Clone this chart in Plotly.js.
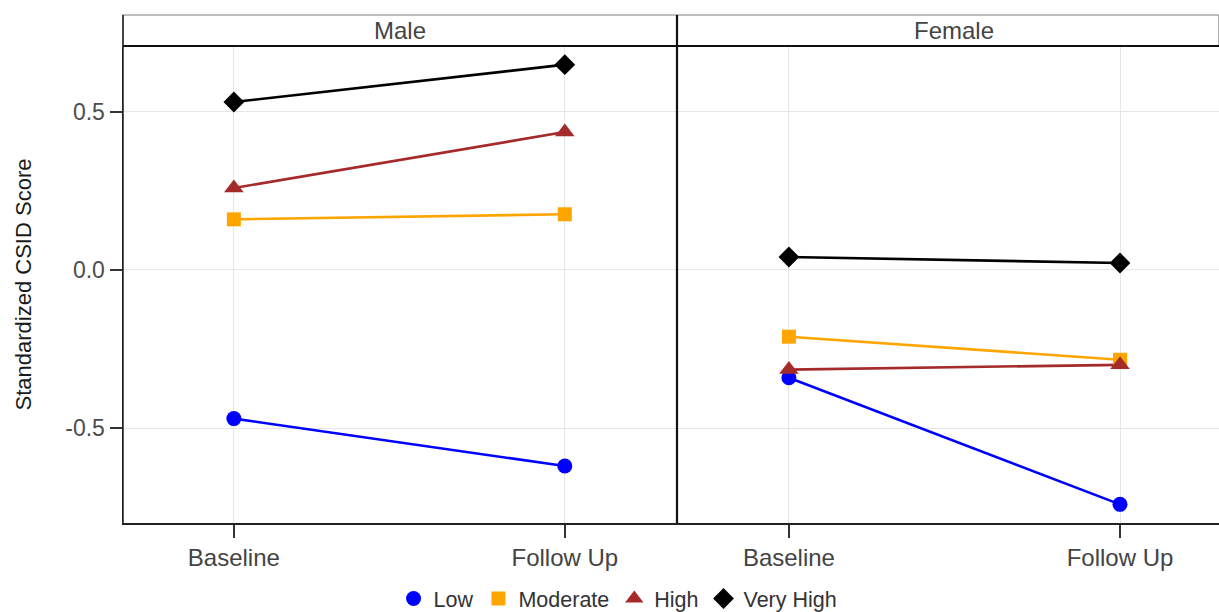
<!DOCTYPE html>
<html>
<head>
<meta charset="utf-8">
<script src="https://cdn.plot.ly/plotly-3.0.1.min.js"></script>
<style>html,body{margin:0;padding:0;background:#fff;}#chart{width:1219px;height:612px;}</style>
</head>
<body>
<div id="chart"></div>
<script>
// ---- Data ----
const timepoints = ["Baseline", "Follow Up"];
const groups = ["Low", "Moderate", "High", "Very High"];
const maleLow = [-0.470, -0.620];
const maleModerate = [0.160, 0.176];
const maleHigh = [0.259, 0.436];
const maleVeryHigh = [0.531, 0.649];
const femaleLow = [-0.341, -0.741];
const femaleModerate = [-0.211, -0.284];
const femaleHigh = [-0.315, -0.300];
const femaleVeryHigh = [0.041, 0.022];
const panelLabels = ["Male", "Female"];
const yTickVals = [-0.5, 0.0, 0.5];
const yTickLabels = ["-0.5", "0.0", "0.5"];

// ---- Styling ----
const colors = ["#0000FF", "#FFA500", "#A52A2A", "#000000"];
const symbols = ["circle", "square", "triangle-up", "diamond"];
const sizes = [15, 14, 17, 16];
const FONT = "Liberation Sans, Arial, sans-serif";

const maleSeries = [maleLow, maleModerate, maleHigh, maleVeryHigh];
const femaleSeries = [femaleLow, femaleModerate, femaleHigh, femaleVeryHigh];

const traces = [];
[["x", maleSeries, true], ["x2", femaleSeries, false]].forEach(([xa, series, legend]) => {
  groups.forEach((g, i) => {
    traces.push({
      x: timepoints, y: series[i], name: g, legendgroup: g,
      type: "scatter", mode: "lines", xaxis: xa, yaxis: "y",
      line: {color: colors[i], width: 2.6}, showlegend: false
    });
  });
  groups.forEach((g, i) => {
    traces.push({
      x: timepoints, y: series[i], name: g, legendgroup: g,
      type: "scatter", mode: "markers", xaxis: xa, yaxis: "y",
      marker: {color: colors[i], symbol: symbols[i], size: sizes[i], line: {width: 0}},
      showlegend: legend
    });
  });
});

const plotW = 1219 - 123;
const plotH = 523 - 46;
const split = 554 / plotW;
const stripTop = 1 + 31 / plotH;

const xCommon = {
  type: "category",
  categoryorder: "array", categoryarray: timepoints,
  showgrid: true, gridcolor: "#e6e6e6", gridwidth: 1,
  ticks: "outside", ticklen: 13, tickcolor: "#333", tickwidth: 1.5,
  tickfont: {family: FONT, size: 24, color: "#444"},
  showline: true, linecolor: "#222", linewidth: 1.5,
  zeroline: false, fixedrange: true
};

const layout = {
  width: 1219, height: 612,
  paper_bgcolor: "#fff", plot_bgcolor: "#fff",
  margin: {l: 123, r: 0, t: 46, b: 89},
  font: {family: FONT},
  xaxis: Object.assign({}, xCommon, {domain: [0, split], range: [-0.335, 1.339], anchor: "y"}),
  xaxis2: Object.assign({}, xCommon, {domain: [split, 1], range: [-0.338, 1.299], anchor: "y"}),
  yaxis: {
    range: [-0.800, 0.708],
    tickmode: "array", tickvals: yTickVals, ticktext: yTickLabels,
    showgrid: true, gridcolor: "#e6e6e6", gridwidth: 1,
    zeroline: false,
    ticks: "outside", ticklen: 12, tickcolor: "#333", tickwidth: 1.5,
    tickfont: {family: FONT, size: 23, color: "#4d4d4d"},
    showline: true, linecolor: "#222", linewidth: 1.5,
    title: {text: "Standardized CSID Score", font: {family: FONT, size: 22, color: "#1a1a1a"}, standoff: 27},
    automargin: false,
    fixedrange: true
  },
  showlegend: true,
  legend: {
    orientation: "h", xref: "container", yref: "container",
    x: 0.507, xanchor: "center", y: 0.022, yanchor: "middle",
    font: {family: FONT, size: 21.5, color: "#333"},
    itemwidth: 30, tracegroupgap: 0, bgcolor: "rgba(0,0,0,0)"
  },
  shapes: [
    {type: "rect", xref: "paper", yref: "paper", x0: 0, x1: 1, y0: 1, y1: stripTop,
     fillcolor: "#fff", line: {color: "#7f7f7f", width: 1.2}, layer: "above"},
    {type: "line", xref: "paper", yref: "paper", x0: 0, x1: 1, y0: 1, y1: 1,
     line: {color: "#111", width: 2.2}},
    {type: "line", xref: "paper", yref: "paper", x0: split, x1: split, y0: 0, y1: stripTop,
     line: {color: "#111", width: 2.2}},
    {type: "line", xref: "paper", yref: "paper", x0: 0, x1: 0, y0: 0, y1: stripTop,
     line: {color: "#222", width: 1.5}}
  ],
  annotations: [
    {text: panelLabels[0], xref: "paper", yref: "paper", x: split / 2, y: (1 + stripTop) / 2,
     xanchor: "center", yanchor: "middle", showarrow: false,
     font: {family: FONT, size: 24, color: "#444"}},
    {text: panelLabels[1], xref: "paper", yref: "paper", x: (831 / plotW), y: (1 + stripTop) / 2,
     xanchor: "center", yanchor: "middle", showarrow: false,
     font: {family: FONT, size: 24, color: "#444"}}
  ]
};

Plotly.newPlot("chart", traces, layout, {displayModeBar: false, staticPlot: true});
</script>
</body>
</html>
